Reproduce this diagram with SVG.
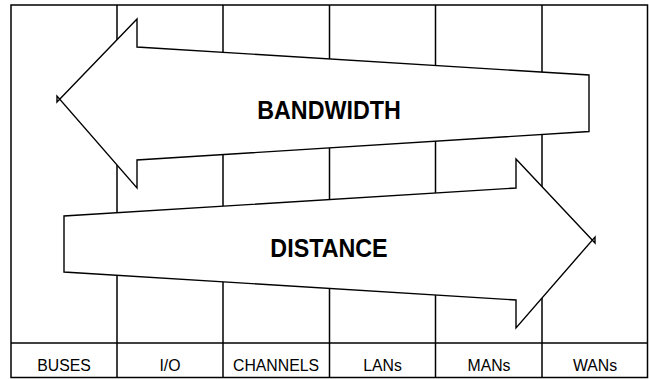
<svg xmlns="http://www.w3.org/2000/svg" width="649" height="379" viewBox="0 0 649 379">
  <style>
    .grid { fill: none; stroke: #000; stroke-width: 1.5; }
    .arrow { fill: #fff; stroke: #000; stroke-width: 1.4; stroke-linejoin: miter; }
    .label { font-family: "Liberation Sans", Arial, sans-serif; font-size: 15.8px; fill: #000; text-anchor: middle; }
    .title { font-family: "Liberation Sans", Arial, sans-serif; font-size: 23.3px; font-weight: bold; fill: #000; text-anchor: middle; }
  </style>

  <rect width="649" height="379" fill="#fff"/>

  <!-- table frame and column dividers -->
  <g id="table" class="grid">
    <rect x="11" y="5" width="636.5" height="372.5"/>
    <line x1="117" y1="5" x2="117" y2="377.5"/>
    <line x1="223" y1="5" x2="223" y2="377.5"/>
    <line x1="329.5" y1="5" x2="329.5" y2="377.5"/>
    <line x1="435.5" y1="5" x2="435.5" y2="377.5"/>
    <line x1="542" y1="5" x2="542" y2="377.5"/>
    <line x1="11" y1="343" x2="647.5" y2="343"/>
  </g>

  <!-- column headings -->
  <g id="col-buses"><text class="label" x="64" y="370.5">BUSES</text></g>
  <g id="col-io"><text class="label" x="170" y="370.5">I/O</text></g>
  <g id="col-channels"><text class="label" x="276" y="370.5">CHANNELS</text></g>
  <g id="col-lans"><text class="label" x="382.5" y="370.5">LANs</text></g>
  <g id="col-mans"><text class="label" x="489" y="370.5">MANs</text></g>
  <g id="col-wans"><text class="label" x="595" y="370.5">WANs</text></g>

  <!-- left-pointing block arrow -->
  <g id="bandwidth">
    <polygon class="arrow" points="137,19 57,102 57,96 137,188 137,160 589,131.5 589,75 137,47"/>
    <text class="title" transform="translate(329,119) scale(1,1.07)">BANDWIDTH</text>
  </g>

  <!-- right-pointing block arrow -->
  <g id="distance">
    <polygon class="arrow" points="516,159 595,243 595,237 516,328 516,300 64,272 64,216 516,188"/>
    <text class="title" transform="translate(329,257) scale(1,1.07)">DISTANCE</text>
  </g>
</svg>
